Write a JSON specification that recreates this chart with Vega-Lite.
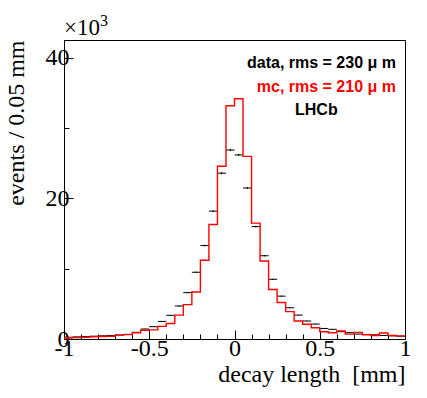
{
  "$schema": "https://vega.github.io/schema/vega-lite/v6.json",
  "width": 341,
  "height": 299,
  "autosize": "none",
  "padding": {"left": 64, "top": 40, "right": 22, "bottom": 59},
  "background": "white",
  "config": {
    "view": {"stroke": "#000", "strokeWidth": 1},
    "axis": {"domainColor": "#000", "tickColor": "#000", "labelColor": "#000", "titleColor": "#000", "labelFont": "Liberation Serif", "titleFont": "Liberation Serif", "labelFontSize": 24, "titleFontSize": 24, "titleFontWeight": "normal", "grid": false, "labelOverlap": false}
  },
  "datasets": {
    "bins": [
      {"lo": -1, "hi": -0.95, "mid": -0.975, "n": 0.25, "err": 0.016},
      {"lo": -0.95, "hi": -0.9, "mid": -0.925, "n": 0.3, "err": 0.017},
      {"lo": -0.9, "hi": -0.85, "mid": -0.875, "n": 0.35, "err": 0.019},
      {"lo": -0.85, "hi": -0.8, "mid": -0.825, "n": 0.4, "err": 0.02},
      {"lo": -0.8, "hi": -0.75, "mid": -0.775, "n": 0.45, "err": 0.021},
      {"lo": -0.75, "hi": -0.7, "mid": -0.725, "n": 0.5, "err": 0.022},
      {"lo": -0.7, "hi": -0.65, "mid": -0.675, "n": 0.57, "err": 0.024},
      {"lo": -0.65, "hi": -0.6, "mid": -0.625, "n": 0.66, "err": 0.026},
      {"lo": -0.6, "hi": -0.55, "mid": -0.575, "n": 0.95, "err": 0.031},
      {"lo": -0.55, "hi": -0.5, "mid": -0.525, "n": 1.42, "err": 0.038},
      {"lo": -0.5, "hi": -0.45, "mid": -0.475, "n": 1.75, "err": 0.042},
      {"lo": -0.45, "hi": -0.4, "mid": -0.425, "n": 2.5, "err": 0.05},
      {"lo": -0.4, "hi": -0.35, "mid": -0.375, "n": 3.37, "err": 0.058},
      {"lo": -0.35, "hi": -0.3, "mid": -0.325, "n": 4.7, "err": 0.069},
      {"lo": -0.3, "hi": -0.25, "mid": -0.275, "n": 6.6, "err": 0.081},
      {"lo": -0.25, "hi": -0.2, "mid": -0.225, "n": 9.5, "err": 0.097},
      {"lo": -0.2, "hi": -0.15, "mid": -0.175, "n": 13.3, "err": 0.115},
      {"lo": -0.15, "hi": -0.1, "mid": -0.125, "n": 18.2, "err": 0.135},
      {"lo": -0.1, "hi": -0.05, "mid": -0.075, "n": 23.6, "err": 0.154},
      {"lo": -0.05, "hi": 0, "mid": -0.025, "n": 26.9, "err": 0.164},
      {"lo": 0, "hi": 0.05, "mid": 0.025, "n": 26.2, "err": 0.162},
      {"lo": 0.05, "hi": 0.1, "mid": 0.075, "n": 21.5, "err": 0.147},
      {"lo": 0.1, "hi": 0.15, "mid": 0.125, "n": 16.0, "err": 0.126},
      {"lo": 0.15, "hi": 0.2, "mid": 0.175, "n": 11.85, "err": 0.109},
      {"lo": 0.2, "hi": 0.25, "mid": 0.225, "n": 8.5, "err": 0.092},
      {"lo": 0.25, "hi": 0.3, "mid": 0.275, "n": 6.1, "err": 0.078},
      {"lo": 0.3, "hi": 0.35, "mid": 0.325, "n": 4.45, "err": 0.067},
      {"lo": 0.35, "hi": 0.4, "mid": 0.375, "n": 3.4, "err": 0.058},
      {"lo": 0.4, "hi": 0.45, "mid": 0.425, "n": 2.56, "err": 0.051},
      {"lo": 0.45, "hi": 0.5, "mid": 0.475, "n": 2.13, "err": 0.046},
      {"lo": 0.5, "hi": 0.55, "mid": 0.525, "n": 1.5, "err": 0.039},
      {"lo": 0.55, "hi": 0.6, "mid": 0.575, "n": 1.38, "err": 0.037},
      {"lo": 0.6, "hi": 0.65, "mid": 0.625, "n": 1.04, "err": 0.032},
      {"lo": 0.65, "hi": 0.7, "mid": 0.675, "n": 0.9, "err": 0.03},
      {"lo": 0.7, "hi": 0.75, "mid": 0.725, "n": 0.7, "err": 0.026},
      {"lo": 0.75, "hi": 0.8, "mid": 0.775, "n": 0.65, "err": 0.025},
      {"lo": 0.8, "hi": 0.85, "mid": 0.825, "n": 0.6, "err": 0.024},
      {"lo": 0.85, "hi": 0.9, "mid": 0.875, "n": 0.5, "err": 0.022},
      {"lo": 0.9, "hi": 0.95, "mid": 0.925, "n": 0.45, "err": 0.021},
      {"lo": 0.95, "hi": 1, "mid": 0.975, "n": 0.4, "err": 0.02}
    ],
    "mc": [
      {"e": -1, "mc": 0.15}, {"e": -0.95, "mc": 0.2}, {"e": -0.9, "mc": 0.25}, {"e": -0.85, "mc": 0.3},
      {"e": -0.8, "mc": 0.35}, {"e": -0.75, "mc": 0.4}, {"e": -0.7, "mc": 0.55}, {"e": -0.65, "mc": 0.62},
      {"e": -0.6, "mc": 0.9}, {"e": -0.55, "mc": 1.25}, {"e": -0.5, "mc": 1.3}, {"e": -0.45, "mc": 1.8},
      {"e": -0.4, "mc": 2.2}, {"e": -0.35, "mc": 3.4}, {"e": -0.3, "mc": 4.9}, {"e": -0.25, "mc": 6.7},
      {"e": -0.2, "mc": 11.2}, {"e": -0.15, "mc": 16.3}, {"e": -0.1, "mc": 24.6}, {"e": -0.05, "mc": 33.2},
      {"e": 0, "mc": 34.2}, {"e": 0.05, "mc": 26.0}, {"e": 0.1, "mc": 16.5}, {"e": 0.15, "mc": 11.1},
      {"e": 0.2, "mc": 7.05}, {"e": 0.25, "mc": 5.2}, {"e": 0.3, "mc": 3.9}, {"e": 0.35, "mc": 2.56},
      {"e": 0.4, "mc": 2.1}, {"e": 0.45, "mc": 1.6}, {"e": 0.5, "mc": 1.04}, {"e": 0.55, "mc": 0.9},
      {"e": 0.6, "mc": 1.14}, {"e": 0.65, "mc": 0.7}, {"e": 0.7, "mc": 0.95}, {"e": 0.75, "mc": 0.6},
      {"e": 0.8, "mc": 0.5}, {"e": 0.85, "mc": 0.85}, {"e": 0.9, "mc": 0.5}, {"e": 0.95, "mc": 0.45},
      {"e": 1, "mc": 0.45}
    ]
  },
  "resolve": {"axis": {"x": "independent"}},
  "layer": [
    {
      "data": {"name": "bins"},
      "mark": {"type": "rule", "color": "#000", "strokeWidth": 1},
      "encoding": {
        "x": {
          "field": "lo", "type": "quantitative",
          "scale": {"domain": [-1, 1], "nice": false, "zero": false},
          "axis": {
            "orient": "bottom",
            "title": "decay length \u00a0[mm]",
            "titleAnchor": "end",
            "titlePadding": 2,
            "values": [-1, -0.5, 0, 0.5, 1],
            "format": "~g",
            "labelExpr": "replace(datum.label, '\u2212', '-')",
            "labelFlush": false,
            "labelOverlap": false,
            "labelBound": false,
            "labelPadding": 6,
            "tickSize": -9
          }
        },
        "x2": {"field": "hi"},
        "y": {
          "field": "n", "type": "quantitative",
          "scale": {"domain": [0, 42.56], "nice": false, "zero": true},
          "axis": {
            "title": "events / 0.05 mm",
            "titleAnchor": "end",
            "titleAngle": -90,
            "titleAlign": "right",
            "titleBaseline": "alphabetic",
            "titleX": -41,
            "titleY": 0,
            "values": [0, 5, 10, 15, 20, 25, 30, 35, 40],
            "labelExpr": "datum.value % 20 === 0 ? datum.label : ''",
            "labelPadding": 4,
            "tickSize": {"condition": {"test": "datum.value % 20 === 0", "value": -9}, "value": -5}
          }
        }
      }
    },
    {
      "data": {"name": "bins"},
      "mark": {"type": "errorbar", "ticks": false, "color": "#000", "thickness": 1},
      "encoding": {
        "x": {"field": "mid", "type": "quantitative", "axis": {"orient": "bottom", "values": [-0.9, -0.8, -0.7, -0.6, -0.4, -0.3, -0.2, -0.1, 0.1, 0.2, 0.3, 0.4, 0.6, 0.7, 0.8, 0.9], "labels": false, "domain": false, "title": null, "tickSize": -5}},
        "y": {"field": "n", "type": "quantitative", "title": "events / 0.05 mm"},
        "yError": {"field": "err"}
      }
    },
    {
      "data": {"name": "mc"},
      "mark": {"type": "line", "interpolate": "step-after", "color": "#ff0000", "strokeWidth": 1.4},
      "encoding": {
        "x": {"field": "e", "type": "quantitative", "axis": null},
        "y": {"field": "mc", "type": "quantitative", "title": "events / 0.05 mm"}
      }
    },
    {
      "data": {"values": [{}]},
      "mark": {"type": "text", "text": "data, rms = 230 \u03bc m", "font": "Liberation Sans", "fontWeight": "bold", "fontSize": 16, "align": "right", "baseline": "middle", "color": "#000"},
      "encoding": {"x": {"datum": 0.947, "axis": null}, "y": {"datum": 39.3}}
    },
    {
      "data": {"values": [{}]},
      "mark": {"type": "text", "text": "mc, rms = 210 \u03bc m", "font": "Liberation Sans", "fontWeight": "bold", "fontSize": 16, "align": "right", "baseline": "middle", "color": "#ff0000"},
      "encoding": {"x": {"datum": 0.947, "axis": null}, "y": {"datum": 35.9}}
    },
    {
      "data": {"values": [{}]},
      "mark": {"type": "text", "text": "LHCb", "font": "Liberation Sans", "fontWeight": "bold", "fontSize": 16, "align": "center", "baseline": "middle", "color": "#000"},
      "encoding": {"x": {"datum": 0.48, "axis": null}, "y": {"datum": 32.6}}
    },
    {
      "data": {"values": [{}]},
      "mark": {"type": "text", "text": "\u00d710", "font": "Liberation Serif", "fontSize": 23, "align": "left", "baseline": "alphabetic", "dy": -5, "color": "#000"},
      "encoding": {"x": {"datum": -1, "axis": null}, "y": {"datum": 42.56}}
    },
    {
      "data": {"values": [{}]},
      "mark": {"type": "text", "text": "3", "font": "Liberation Serif", "fontSize": 16, "align": "left", "baseline": "alphabetic", "dx": 36, "dy": -14, "color": "#000"},
      "encoding": {"x": {"datum": -1, "axis": null}, "y": {"datum": 42.56}}
    }
  ]
}
